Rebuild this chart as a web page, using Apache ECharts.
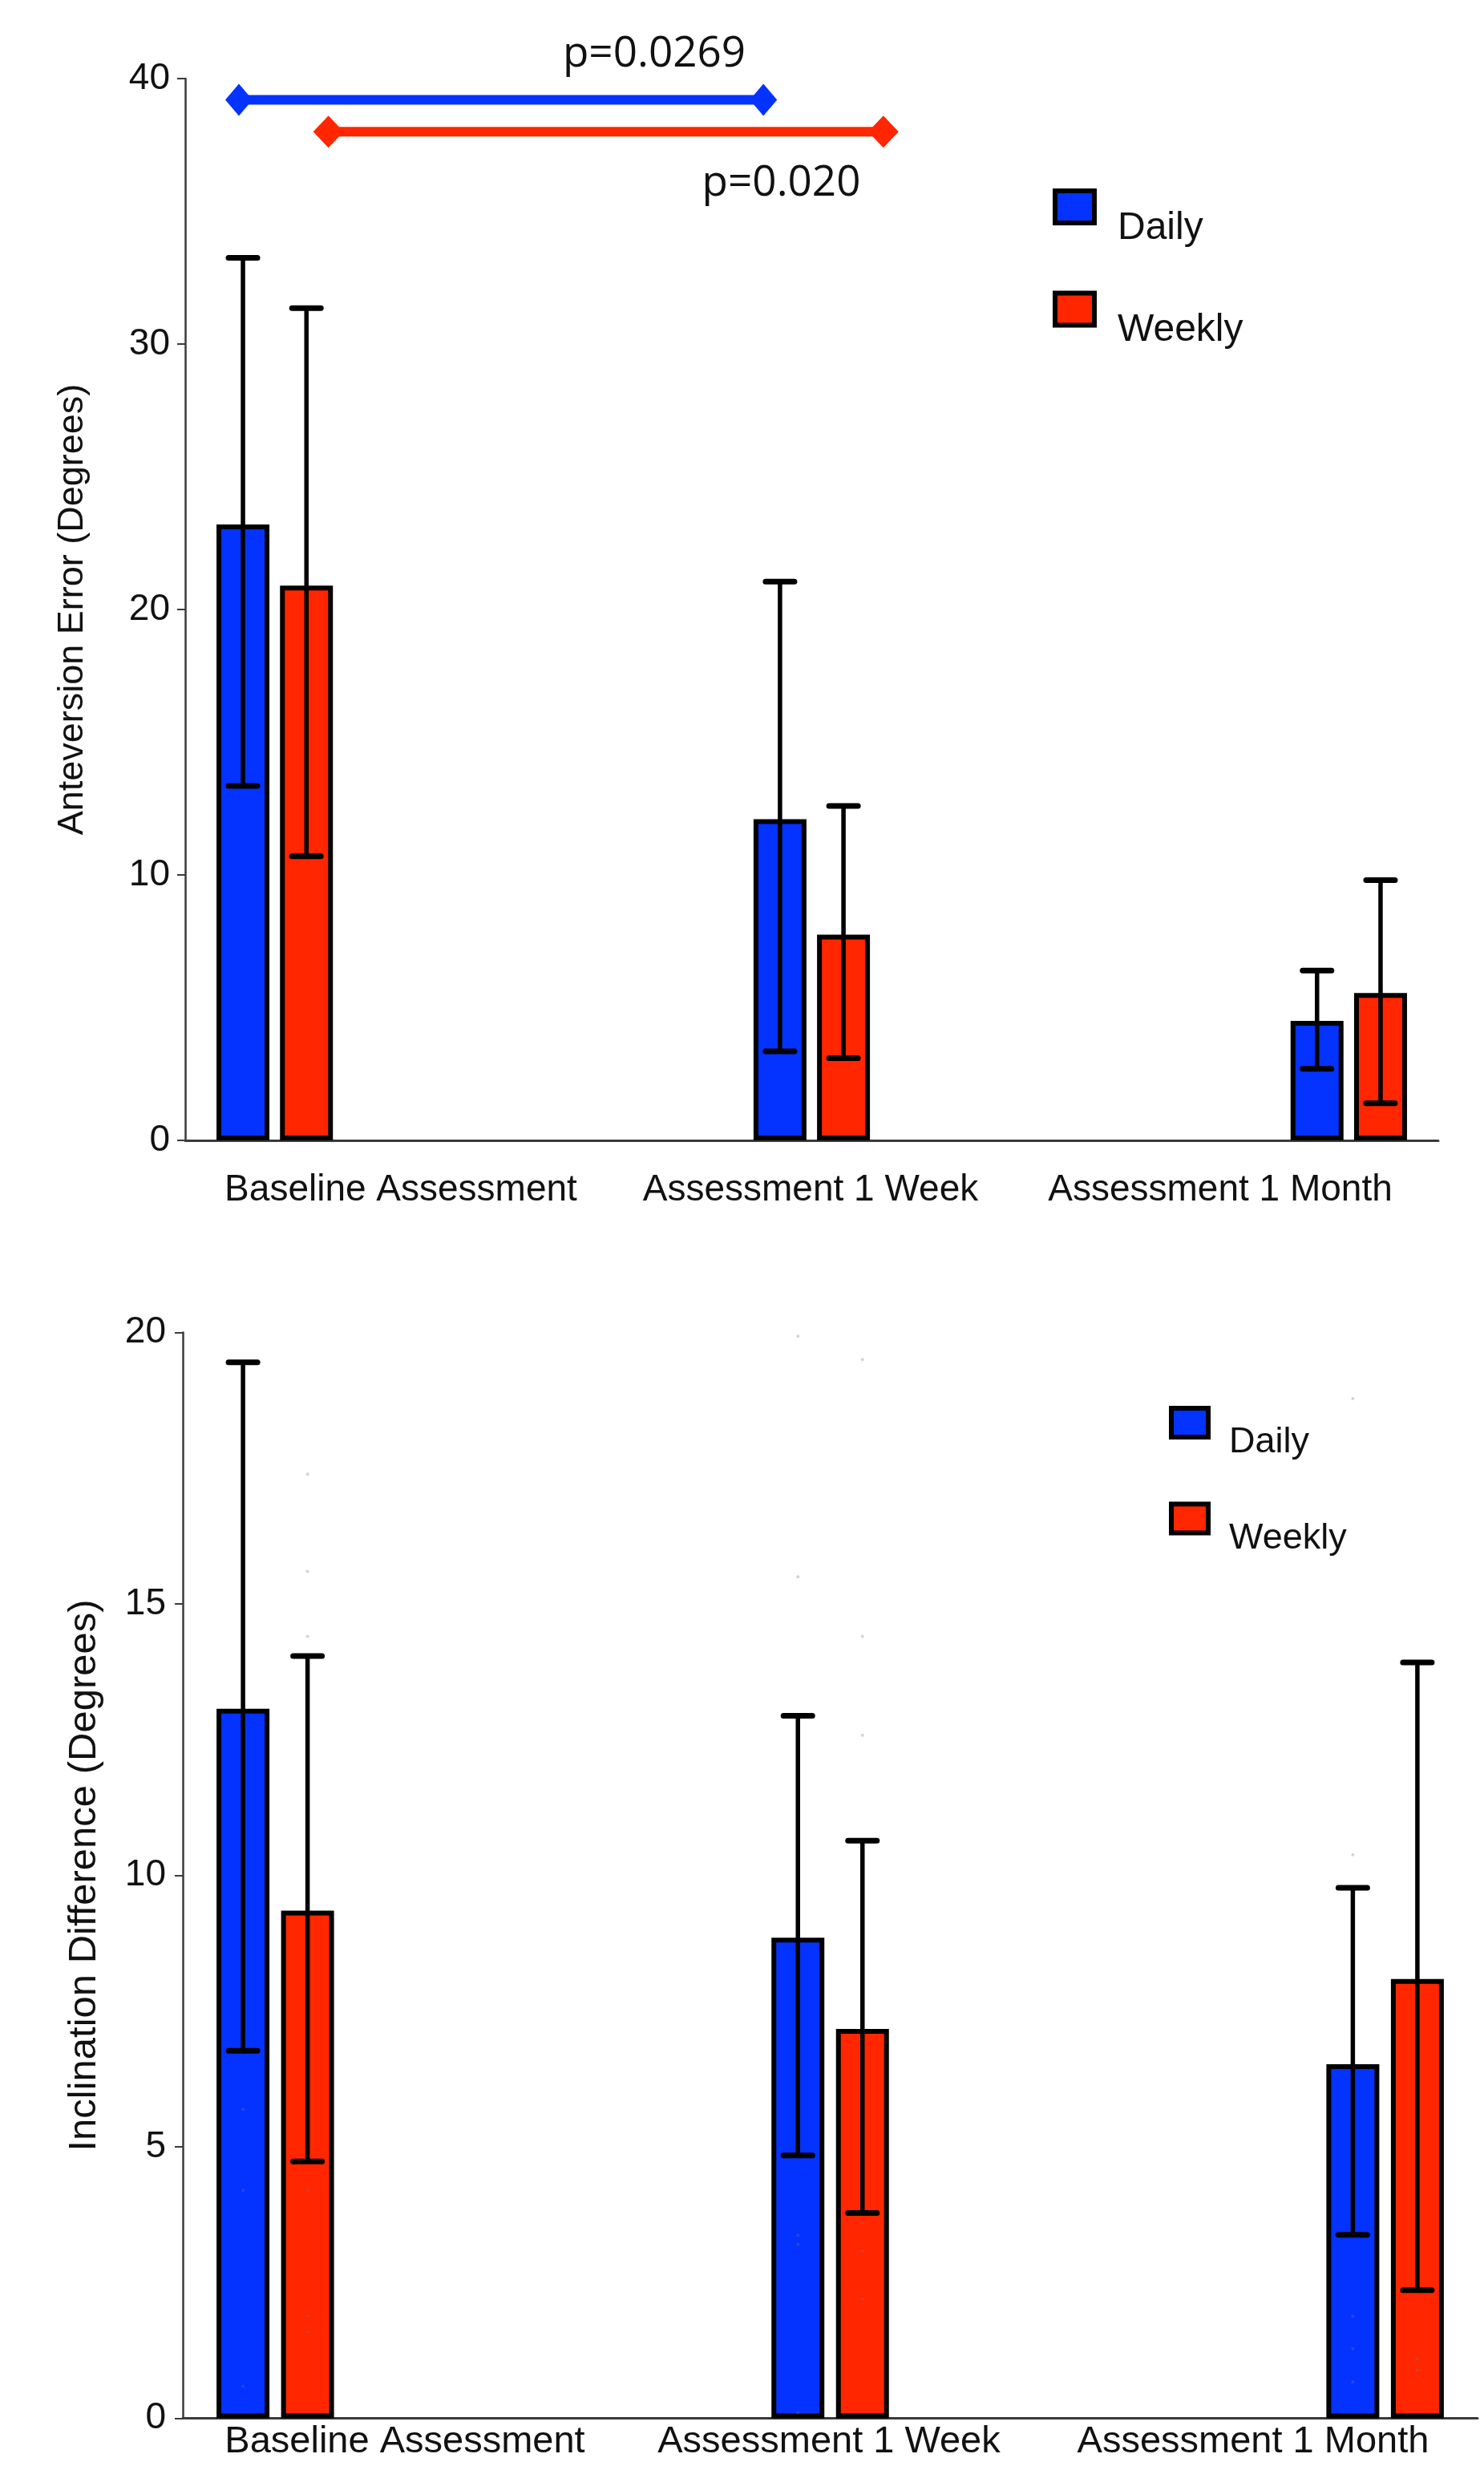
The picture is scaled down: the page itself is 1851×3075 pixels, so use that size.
<!DOCTYPE html>
<html><head><meta charset="utf-8">
<script src="https://cdn.jsdelivr.net/npm/echarts@6/dist/echarts.min.js"></script>
<style>html,body{margin:0;padding:0;background:#fff}#c{width:1851px;height:3075px}</style>
</head><body><div id="c"></div>
<script>
// ---------- data ----------
const categories = ['Baseline Assessment', 'Assessment 1 Week', 'Assessment 1 Month'];
const groupNames = ['Daily', 'Weekly'];

// Top chart: Anteversion Error (Degrees)
const antDailyMean  = [23.2, 12.1, 4.5];
const antDailyLow   = [13.35, 3.35, 2.7];
const antDailyHigh  = [33.25, 21.05, 6.4];
const antWeeklyMean = [20.9, 7.75, 5.55];
const antWeeklyLow  = [10.7, 3.1, 1.4];
const antWeeklyHigh = [31.35, 12.6, 9.8];
const antTicks = [0, 10, 20, 30, 40];
// significance brackets (x in slot units, y in degrees)
const sigBlue = [[0.30, 39.2], [3.23, 39.2]];
const sigRed  = [[0.80, 38.0], [3.90, 38.0]];
const pLabels = [
  { value: [2.62, 40.9], name: 'p=0.0269' },
  { value: [3.33, 36.05], name: 'p=0.020' }
];

// Bottom chart: Inclination Difference (Degrees)
const incDailyMean  = [13.07, 8.85, 6.52];
const incDailyLow   = [6.77, 4.84, 3.38];
const incDailyHigh  = [19.45, 12.94, 9.77];
const incWeeklyMean = [9.35, 7.17, 8.09];
const incWeeklyLow  = [4.73, 3.78, 2.36];
const incWeeklyHigh = [14.04, 10.64, 13.92];
const incTicks = [0, 5, 10, 15, 20];
// faint individual points visible in the picture
const incDailyPoints  = [[5.69, 4.2, 0.59], [19.93, 15.5, 3.37, 3.2, 0.1], [18.78, 10.38, 1.88, 1.28, 0.67]];
const incWeeklyPoints = [[17.39, 15.6, 14.4, 4.2, 1.88, 1.59], [19.5, 14.4, 12.58, 3.6, 3.08, 2.19], [1.09, 0.89]];

// ---------- style constants ----------
const BLUE = '#0433FF', RED = '#FF2600';
const FONT = '"Liberation Sans", Arial, Helvetica, sans-serif';
const SLOTS = 7, SLOT_STEP = 3;
const BAR_W = 66, BORDER = 6;
const GAP_TOP = 0.20, GAP_BOT = 0.22;
const offTop = BAR_W * (1 + GAP_TOP) / 2;
const offBot = BAR_W * (1 + GAP_BOT) / 2;

const slotLabels = Array.from({ length: SLOTS }, () => '');
const toBars = vals => vals.map((v, i) => [i * SLOT_STEP, v]);
const toErr = (lo, hi) => lo.map((l, i) => [i * SLOT_STEP, l, hi[i]]);
const toPts = pts => { const out = []; pts.forEach((arr, i) => arr.forEach(v => out.push([i * SLOT_STEP, v]))); return out; };

function errRender(offset) {
  return function (params, api) {
    const x = api.value(0);
    const pLo = api.coord([x, api.value(1)]);
    const pHi = api.coord([x, api.value(2)]);
    const cx = pLo[0] + offset;
    const st = { stroke: '#000', lineWidth: 5.5 };
    const cap = { stroke: '#000', lineWidth: 7, lineCap: 'round' };
    return { type: 'group', children: [
      { type: 'line', shape: { x1: cx, y1: pHi[1], x2: cx, y2: pLo[1] }, style: st },
      { type: 'line', shape: { x1: cx - 18, y1: pHi[1], x2: cx + 18, y2: pHi[1] }, style: cap },
      { type: 'line', shape: { x1: cx - 18, y1: pLo[1], x2: cx + 18, y2: pLo[1] }, style: cap }
    ]};
  };
}

function valueY(gridIndex, ticks, name, nameGap, nameSize, labelSize, margin) {
  return {
    type: 'value', gridIndex, min: ticks[0], max: ticks[ticks.length - 1],
    interval: ticks[1] - ticks[0],
    axisLine: { show: true, lineStyle: { color: '#3a3a3a', width: 2.5 } },
    axisTick: { show: true, length: 10, lineStyle: { color: '#3a3a3a', width: 2 } },
    axisLabel: { fontSize: labelSize, color: '#111', fontFamily: FONT, margin },
    splitLine: { show: false },
    name, nameLocation: 'middle', nameRotate: 90, nameGap,
    nameTextStyle: { fontSize: nameSize, color: '#111', fontFamily: FONT }
  };
}

function legendCfg(left, top, iw, ih, gap, fs, padTop, padLeft) {
  return {
    data: groupNames, orient: 'vertical', left, top, padding: 0,
    icon: 'rect', itemWidth: iw, itemHeight: ih, itemGap: gap, selectedMode: false,
    itemStyle: { borderColor: '#000', borderWidth: BORDER },
    formatter: '{t|{name}}',
    textStyle: {
      fontSize: fs, color: '#111', fontFamily: FONT,
      rich: { t: { fontSize: fs, lineHeight: fs, color: '#111', fontFamily: FONT, padding: [padTop, 0, 0, padLeft] } }
    }
  };
}

const chart = echarts.init(document.getElementById('c'), null, { renderer: 'canvas' });
chart.setOption({
  animation: false,
  backgroundColor: '#fff',
  grid: [
    { left: 231, right: 57, top: 98, bottom: 1653 },
    { left: 244.5, right: 73.5, top: 98, bottom: 1653 },
    { left: 228, right: 8, top: 1661.5, bottom: 59.5 },
    { left: 240.5, right: 23.5, top: 1661.5, bottom: 59.5 }
  ],
  xAxis: [
    { type: 'category', gridIndex: 0, data: slotLabels, boundaryGap: true,
      axisLine: { show: true, lineStyle: { color: '#3a3a3a', width: 3 } },
      axisTick: { show: false }, axisLabel: { show: false } },
    { type: 'category', gridIndex: 1, data: categories,
      axisLine: { show: false }, axisTick: { show: false },
      axisLabel: { interval: 0, fontSize: 46, lineHeight: 46, color: '#111', fontFamily: FONT, margin: 39 } },
    { type: 'value', gridIndex: 0, min: 0, max: SLOTS, show: false },
    { type: 'category', gridIndex: 2, data: slotLabels, boundaryGap: true,
      axisLine: { show: true, lineStyle: { color: '#3a3a3a', width: 3 } },
      axisTick: { show: false }, axisLabel: { show: false } },
    { type: 'category', gridIndex: 3, data: categories,
      axisLine: { show: false }, axisTick: { show: false },
      axisLabel: { interval: 0, fontSize: 47, lineHeight: 47, color: '#111', fontFamily: FONT, margin: 6 } }
  ],
  yAxis: [
    valueY(0, antTicks, 'Anteversion Error (Degrees)', 118, 45, 46, 19),
    { type: 'value', gridIndex: 1, show: false, min: 0, max: 40 },
    valueY(2, incTicks, 'Inclination Difference (Degrees)', 98, 49, 46, 21),
    { type: 'value', gridIndex: 3, show: false, min: 0, max: 20 }
  ],
  legend: [
    legendCfg(1313, 207.5, 49, 40, 26.5, 48, 53, 24),
    legendCfg(1458, 1726.5, 46, 36, 24.5, 45, 50, 21)
  ],
  series: [
    // top chart bars
    { name: groupNames[0], type: 'bar', xAxisIndex: 0, yAxisIndex: 0, data: toBars(antDailyMean),
      barWidth: BAR_W, barGap: (GAP_TOP * 100) + '%', z: 2,
      itemStyle: { color: BLUE, borderColor: '#000', borderWidth: BORDER } },
    { name: groupNames[1], type: 'bar', xAxisIndex: 0, yAxisIndex: 0, data: toBars(antWeeklyMean),
      barWidth: BAR_W, barGap: (GAP_TOP * 100) + '%', z: 2,
      itemStyle: { color: RED, borderColor: '#000', borderWidth: BORDER } },
    { type: 'custom', xAxisIndex: 0, yAxisIndex: 0, z: 3, data: toErr(antDailyLow, antDailyHigh),
      encode: { x: 0, y: [1, 2] }, renderItem: errRender(-offTop) },
    { type: 'custom', xAxisIndex: 0, yAxisIndex: 0, z: 3, data: toErr(antWeeklyLow, antWeeklyHigh),
      encode: { x: 0, y: [1, 2] }, renderItem: errRender(offTop) },
    // significance brackets
    { type: 'line', xAxisIndex: 2, yAxisIndex: 0, data: sigBlue, symbol: 'diamond', symbolSize: [34, 40],
      lineStyle: { color: BLUE, width: 12 }, itemStyle: { color: BLUE }, z: 5, clip: false },
    { type: 'line', xAxisIndex: 2, yAxisIndex: 0, data: sigRed, symbol: 'diamond', symbolSize: [38, 40],
      lineStyle: { color: RED, width: 12 }, itemStyle: { color: RED }, z: 5, clip: false },
    { type: 'scatter', xAxisIndex: 2, yAxisIndex: 0, data: pLabels, symbolSize: 1, clip: false, z: 6,
      itemStyle: { color: 'rgba(255,255,255,0)' },
      label: { show: true, position: 'inside', formatter: '{b}', fontSize: 53, color: '#111',
        textBorderWidth: 0, opacity: 1,
        fontFamily: '"Open Sans", "Liberation Sans", sans-serif' } },
    // bottom chart bars
    { name: groupNames[0], type: 'bar', xAxisIndex: 3, yAxisIndex: 2, data: toBars(incDailyMean),
      barWidth: BAR_W, barGap: (GAP_BOT * 100) + '%', z: 2,
      itemStyle: { color: BLUE, borderColor: '#000', borderWidth: BORDER } },
    { name: groupNames[1], type: 'bar', xAxisIndex: 3, yAxisIndex: 2, data: toBars(incWeeklyMean),
      barWidth: BAR_W, barGap: (GAP_BOT * 100) + '%', z: 2,
      itemStyle: { color: RED, borderColor: '#000', borderWidth: BORDER } },
    { type: 'custom', xAxisIndex: 3, yAxisIndex: 2, z: 3, data: toErr(incDailyLow, incDailyHigh),
      encode: { x: 0, y: [1, 2] }, renderItem: errRender(-offBot) },
    { type: 'custom', xAxisIndex: 3, yAxisIndex: 2, z: 3, data: toErr(incWeeklyLow, incWeeklyHigh),
      encode: { x: 0, y: [1, 2] }, renderItem: errRender(offBot) },
    { type: 'scatter', xAxisIndex: 3, yAxisIndex: 2, data: toPts(incDailyPoints), symbolSize: 4,
      symbolOffset: [-offBot, 0], z: 4, itemStyle: { color: 'rgba(120,120,120,0.4)' } },
    { type: 'scatter', xAxisIndex: 3, yAxisIndex: 2, data: toPts(incWeeklyPoints), symbolSize: 4,
      symbolOffset: [offBot, 0], z: 4, itemStyle: { color: 'rgba(120,120,120,0.4)' } }
  ]
});
</script>
</body></html>
